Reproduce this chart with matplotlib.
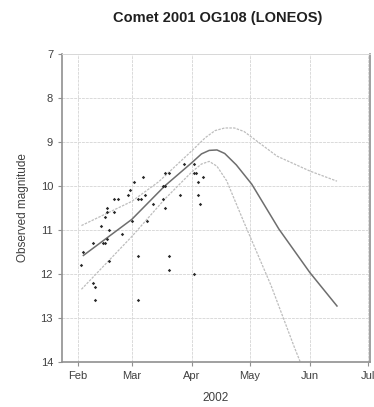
import matplotlib.pyplot as plt
import matplotlib.dates as mdates
import numpy as np
import pandas as pd

plt.rcParams["font.family"] = ["Liberation Sans", "DejaVu Sans"]

obs_dates = [
    "02-03", "02-04", "02-09", "02-09", "02-10", "02-10", "02-13", "02-14", "02-15", "02-16",
    "02-17", "02-17", "02-15", "02-16", "02-16", "02-20", "02-20", "02-22", "02-24", "02-27",
    "02-28", "03-02", "03-01", "03-04", "03-04", "03-04", "03-06", "03-08", "03-07", "03-09",
    "03-12", "03-17", "03-18", "03-17", "03-18", "03-18", "03-20", "03-20", "03-20", "03-26",
    "03-28", "04-02", "04-02", "04-03", "04-04", "04-07", "04-04", "04-05", "04-02",
]
obs_mags = [
    11.8, 11.5, 11.3, 12.2, 12.3, 12.6, 10.9, 11.3, 11.3, 11.2,
    11.0, 11.7, 10.7, 10.6, 10.5, 10.6, 10.3, 10.3, 11.1, 10.2,
    10.1, 9.9, 10.8, 11.6, 12.6, 10.3, 10.3, 10.2, 9.8, 10.8,
    10.4, 10.0, 10.0, 10.3, 10.5, 9.7, 9.7, 11.6, 11.9, 10.2,
    9.5, 9.5, 9.7, 9.7, 9.9, 9.8, 10.2, 10.4, 12.0,
]

# Fitted light curve
fit_dates = ["02-04", "03-01", "03-18", "04-01", "04-06", "04-10", "04-14", "04-18",
             "04-24", "05-02", "05-16", "06-01", "06-15"]
fit_mags = [11.58, 10.76, 10.0, 9.47, 9.27, 9.19, 9.18, 9.26,
            9.52, 9.96, 10.98, 11.97, 12.73]

# Upper / lower envelopes
upper_dates = ["02-03", "03-01", "03-15", "04-01", "04-08", "04-13", "04-18", "04-23",
               "04-28", "05-15", "06-01", "06-15"]
upper_mags = [10.9, 10.35, 9.9, 9.2, 8.9, 8.74, 8.68, 8.68,
              8.76, 9.32, 9.66, 9.89]
lower_dates = ["02-03", "03-01", "03-18", "04-01", "04-06", "04-10", "04-14", "04-19",
               "04-28", "05-12", "05-24", "05-27"]
lower_mags = [12.35, 11.15, 10.3, 9.68, 9.5, 9.44, 9.55, 9.88,
              10.83, 12.27, 13.67, 14.0]

month_ticks = ["02-01", "03-01", "04-01", "05-01", "06-01", "07-01"]
month_labels = ["Feb", "Mar", "Apr", "May", "Jun", "Jul"]


def to_dates(md):
    return pd.to_datetime(["2002-" + d for d in md])


fig = plt.figure(figsize=(3.74, 4.07), dpi=100)
ax = fig.add_axes([0.166, 0.111, 0.823, 0.756])

ax.plot(to_dates(upper_dates), upper_mags, color="#bdbdbd", linewidth=0.9, linestyle=(0, (2, 1)))
ax.plot(to_dates(lower_dates), lower_mags, color="#bdbdbd", linewidth=0.9, linestyle=(0, (2, 1)))
ax.plot(to_dates(fit_dates), fit_mags, color="#6e6e6e", linewidth=1.1)
ax.scatter(to_dates(obs_dates), obs_mags, s=3, color="#282828", marker="D", linewidths=0, zorder=3)

ax.set_ylim(14, 7)
ax.set_xlim(pd.Timestamp("2002-01-24"), pd.Timestamp("2002-07-02"))
ax.set_yticks(np.arange(7, 15))
ax.set_xticks(to_dates(month_ticks))
ax.set_xticklabels(month_labels)
ax.tick_params(labelsize=8, colors="#404040", length=3, width=0.8)
ax.tick_params(axis="both", color="#909090")

ax.grid(True, color="#dadada", linewidth=0.7, linestyle=(0, (3, 1)))
ax.set_axisbelow(True)
for side in ax.spines.values():
    side.set_color("#909090")
    side.set_linewidth(1.2)
ax.spines["top"].set_color("#d8d8d8")
ax.spines["top"].set_linewidth(0.7)

ax.set_xlabel("2002", fontsize=8.5, color="#404040", labelpad=8)
ax.set_ylabel("Observed magnitude", fontsize=8.5, color="#404040", labelpad=8)
fig.text(0.583, 0.955, "Comet 2001 OG108 (LONEOS)", ha="center", va="center",
         fontsize=10.5, fontweight="bold", color="#202020")

fig.savefig("out.png", dpi=100)
